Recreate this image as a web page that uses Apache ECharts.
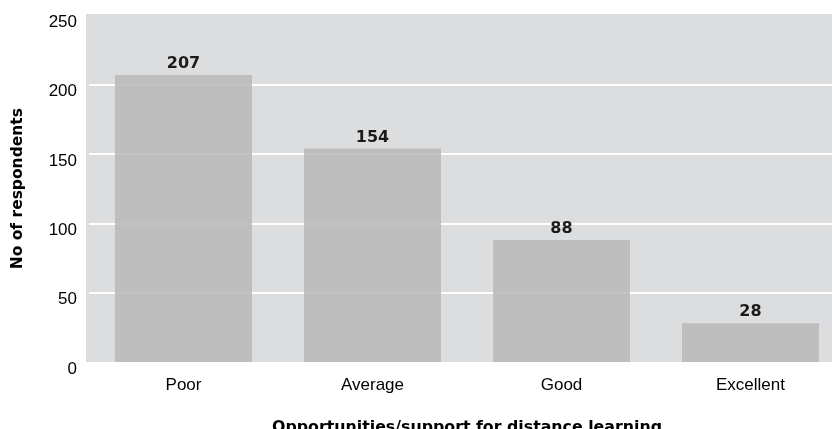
<!DOCTYPE html>
<html>
<head>
<meta charset="utf-8">
<script src="https://cdn.jsdelivr.net/npm/echarts@6/dist/echarts.min.js"></script>
<style>html,body{margin:0;padding:0;background:#fff;}#c{width:832px;height:429px;}</style>
</head>
<body>
<div id="c"></div>
<script>
var categories = ['Poor', 'Average', 'Good', 'Excellent'];
var respondents = [207, 154, 88, 28];
var yTicks = [0, 50, 100, 150, 200, 250];

var chart = echarts.init(document.getElementById('c'), null, {renderer: 'canvas'});
chart.setOption({
  animation: false,
  backgroundColor: '#ffffff',
  graphic: [{
    type: 'rect', z: -10, silent: true,
    shape: {x: 86, y: 14, width: 746, height: 348},
    style: {fill: '#dcdddf'}
  }],
  grid: {left: 89, right: -13, top: 15.4, bottom: 67, containLabel: false, outerBoundsMode: 'none'},
  xAxis: {
    type: 'category',
    data: categories,
    axisLine: {show: false},
    axisTick: {show: false},
    axisLabel: {color: '#000', fontFamily: 'Liberation Sans', fontSize: 17, margin: 15},
    name: 'Opportunities/support for distance learning',
    nameLocation: 'middle',
    nameGap: 58,
    nameTextStyle: {color: '#000', fontFamily: 'DejaVu Sans', fontWeight: 'bold', fontSize: 15.8}
  },
  yAxis: {
    type: 'value',
    min: yTicks[0], max: yTicks[yTicks.length - 1], interval: 50,
    axisLine: {show: false},
    axisTick: {show: false},
    splitLine: {show: true, showMinLine: false, showMaxLine: false, lineStyle: {color: '#ffffff', width: 2}},
    axisLabel: {color: '#000', fontFamily: 'Liberation Sans', fontSize: 17, margin: 12, verticalAlign: 'top', lineHeight: 14},
    name: 'No of respondents',
    nameLocation: 'middle',
    nameGap: 63,
    nameRotate: 90,
    nameTextStyle: {color: '#000', fontFamily: 'DejaVu Sans', fontWeight: 'bold', fontSize: 15.5}
  },
  series: [{
    type: 'bar',
    data: respondents,
    barWidth: 137,
    itemStyle: {color: '#b9babb', opacity: 0.88},
    z: 1,
    label: {
      show: true, position: 'top', distance: 3,
      color: '#000', fontFamily: 'DejaVu Sans', fontWeight: 'bold', fontSize: 16
    }
  }]
});
</script>
</body>
</html>
